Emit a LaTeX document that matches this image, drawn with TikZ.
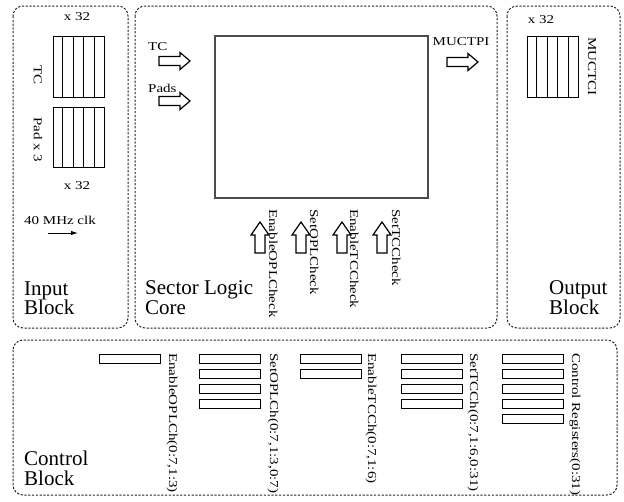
\documentclass[tikz,border=0pt]{standalone}
\usepackage{fontspec}
\usetikzlibrary{calc,arrows.meta}
\setmainfont{Liberation Serif}
\newfontfamily\sfont[FakeStretch=1.25]{Liberation Serif}
\begin{document}
\begin{tikzpicture}[x=1pt,y=-1pt,
  blk/.style={draw=black!85, dash pattern=on 2.2pt off 1.6pt, line width=1pt, rounded corners=10pt},
  reg/.style={draw, line width=0.9pt},
  sm/.style={font=\sfont\fontsize{12}{14}\selectfont, inner sep=0pt},
  smv/.style={sm, rotate=-90, anchor=base west},
  big/.style={font=\fontsize{21}{20}\selectfont, inner sep=0pt, anchor=base west},
  rarrow/.pic={\draw[line width=1.2pt, line join=miter] (0,-4.5) -- (21,-4.5) -- (21,-8.5) -- (31,0) -- (21,8.5) -- (21,4.5) -- (0,4.5) -- cycle;},
  uarrow/.pic={\draw[line width=1.2pt, line join=miter] (0,0) -- (9,13) -- (5,13) -- (5,31) -- (-5,31) -- (-5,13) -- (-9,13) -- cycle;}
]
\useasboundingbox (0,0) rectangle (624,501);

% ---------- blocks ----------
\draw[blk] (13,6) rectangle (128,328);
\draw[blk] (135,6) rectangle (497,328);
\draw[blk] (507,6) rectangle (620,328);
\draw[blk] (13,340) rectangle (617,495);

% ---------- Input block ----------
\node[sm, anchor=base] (inx1) at (77,20) {x 32};
\node[reg, minimum width=51pt, minimum height=61pt, inner sep=0pt] (tcreg) at (78.5,66.5) {};
\node[reg, minimum width=51pt, minimum height=60pt, inner sep=0pt] (padreg) at (78.5,137) {};
\foreach \i in {1,...,4} {
  \draw[line width=0.9pt] ($(tcreg.north west)!\i/5!(tcreg.north east)$) -- ($(tcreg.south west)!\i/5!(tcreg.south east)$);
  \draw[line width=0.9pt] ($(padreg.north west)!\i/5!(padreg.north east)$) -- ($(padreg.south west)!\i/5!(padreg.south east)$);
}
\node[smv] (tclab) at (34,65) {TC};
\node[smv] (padlab) at (34,117) {Pad x 3};
\node[sm, anchor=base] (inx2) at (77,189) {x 32};
\node[sm, anchor=base] (clk) at (60,224) {40 MHz clk};
\coordinate (clka) at (48,233);
\coordinate (clkb) at (78,233);
\draw[line width=1pt, -{Latex[length=7pt,width=4.5pt]}] (clka) -- (clkb);
\node[big] (in1) at (24,295) {Input};
\node[big] (in2) at (24,314) {Block};

% ---------- Sector Logic Core ----------
\node[draw=black!70, line width=1.2pt, minimum width=213pt, minimum height=162pt, inner sep=0pt] (core) at (321.5,117) {};
\node[sm, anchor=base west] (tcin) at (148,50) {TC};
\pic (tcarrow) at (159,61) {rarrow};
\node[sm, anchor=base west] (padsin) at (148,92) {Pads};
\pic (padsarrow) at (159,101) {rarrow};
\node[sm, anchor=base] (muctpi) at (461,45) {MUCTPI};
\pic (outarrow) at (447,62) {rarrow};

\pic (a1) at (260,222) {uarrow};
\pic (a2) at (301,222) {uarrow};
\pic (a3) at (342,222) {uarrow};
\pic (a4) at (382,222) {uarrow};
\node[smv] (l1) at (269,209) {EnableOPLCheck};
\node[smv] (l2) at (310,209) {SetOPLCheck};
\node[smv] (l3) at (350,209) {EnableTCCheck};
\node[smv] (l4) at (392,209) {SetTCCheck};

\node[big] (sl1) at (145,294) {Sector Logic};
\node[big] (sl2) at (145,314) {Core};

% ---------- Output block ----------
\node[sm, anchor=base] (outx) at (541,23) {x 32};
\node[reg, minimum width=51pt, minimum height=61pt, inner sep=0pt] (outreg) at (552.5,66.5) {};
\foreach \i in {1,...,4} {
  \draw[line width=0.9pt] ($(outreg.north west)!\i/5!(outreg.north east)$) -- ($(outreg.south west)!\i/5!(outreg.south east)$);
}
\node[smv] (mucti) at (588,37) {MUCTCI};
\node[big] (ou1) at (549,294) {Output};
\node[big] (ou2) at (549,314) {Block};

% ---------- Control block ----------
\foreach \x/\n in {99/1, 199/4, 300/2, 401/4, 502/5} {
  \foreach \k in {1,...,\n} {
    \draw[reg] (\x,{354+15*(\k-1)}) rectangle ++(61,9.5);
  }
}
\node[smv] (c1) at (169,353) {EnableOPLCh(0:7,1:3)};
\node[smv] (c2) at (270,353) {SetOPLCh(0:7,1:3,0:7)};
\node[smv] (c3) at (368,353) {EnableTCCh(0:7,1:6)};
\node[smv] (c4) at (470,353) {SetTCCh(0:7,1:6,0:31)};
\node[smv] (c5) at (572,353) {Control Registers(0:31)};
\node[big] (cb1) at (24,465) {Control};
\node[big] (cb2) at (24,485) {Block};
\end{tikzpicture}
\end{document}
